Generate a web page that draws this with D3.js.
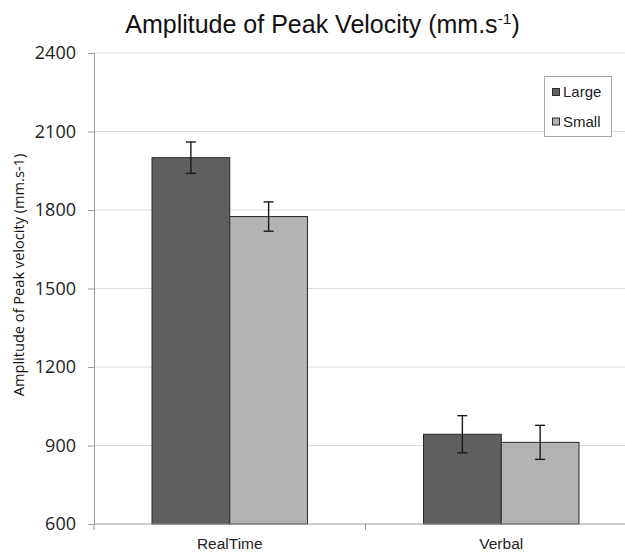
<!DOCTYPE html>
<html><head><meta charset="utf-8">
<script src="https://cdn.jsdelivr.net/npm/d3@7"></script>
<style>body{margin:0;background:#fff}svg{display:block}</style>
</head><body>
<svg id="chart" width="625" height="553"></svg>
<script>
const categories = ["RealTime", "Verbal"];
const seriesNames = ["Large", "Small"];
const largeValues = [2000, 943];
const largeErrors = [60, 71];
const smallValues = [1775, 912];
const smallErrors = [56, 65];
const yTicks = [600, 900, 1200, 1500, 1800, 2100, 2400];
const colors = ["#5f5f5f", "#b3b3b3"];

const svg = d3.select("#chart");
const pLeft = 94, pRight = 637, pTop = 53, pBottom = 524;

const y = d3.scaleLinear().domain([600, 2400]).range([pBottom, pTop]);
const x = d3.scaleBand().domain(categories).range([pLeft, pRight]).padding(0);
const x1 = d3.scaleBand().domain(seriesNames).range([0, x.bandwidth()]).paddingInner(0).paddingOuter(0.746);

const data = seriesNames.map((s, i) => ({
  name: s, color: colors[i],
  values: categories.map((c, j) => ({cat: c, v: i === 0 ? largeValues[j] : smallValues[j], e: i === 0 ? largeErrors[j] : smallErrors[j]}))
}));

// gridlines
svg.append("g").selectAll("line").data(yTicks.filter(t => t > 600)).join("line")
  .attr("x1", pLeft).attr("x2", pRight).attr("y1", d => y(d)).attr("y2", d => y(d))
  .attr("stroke", "#dcdcdc").attr("stroke-width", 1);

// y axis
const yAxis = svg.append("g").attr("transform", `translate(${pLeft},0)`)
  .call(d3.axisLeft(y).tickValues(yTicks).tickSize(6).tickPadding(12).tickFormat(d3.format("d")));
yAxis.select(".domain").attr("stroke", "#9a9a9a");
yAxis.selectAll(".tick line").attr("stroke", "#9a9a9a");
yAxis.selectAll("text").attr("font-family", "Open Sans").attr("font-size", 18).attr("fill", "#222");

// bars
const groups = svg.append("g").selectAll("g").data(data).join("g").attr("fill", d => d.color);
groups.selectAll("rect").data(d => d.values.map(v => ({...v, s: d.name}))).join("rect")
  .attr("x", d => x(d.cat) + x1(d.s)).attr("width", x1.bandwidth())
  .attr("y", d => y(d.v)).attr("height", d => pBottom - y(d.v))
  .attr("stroke", "#2a2a2a").attr("stroke-width", 1);

// x axis
const xAxis = svg.append("g").attr("transform", `translate(0,${pBottom})`);
xAxis.append("line").attr("x1", pLeft).attr("x2", pRight).attr("stroke", "#9a9a9a");
xAxis.selectAll("line.tk").data([pLeft, x(categories[1]), pRight]).join("line").attr("class", "tk")
  .attr("x1", d => d).attr("x2", d => d).attr("y1", 0).attr("y2", 6).attr("stroke", "#9a9a9a");
xAxis.selectAll("text").data(categories).join("text")
  .attr("x", d => x(d) + x.bandwidth() / 2).attr("y", 25)
  .attr("text-anchor", "middle").attr("font-family", "Liberation Sans, Arial").attr("font-size", 15.5).attr("fill", "#222")
  .text(d => d);

// error bars
const eb = svg.append("g").attr("stroke", "#1a1a1a").attr("stroke-width", 1.4);
data.forEach(s => s.values.forEach(d => {
  const cx = x(d.cat) + x1(s.name) + x1.bandwidth() / 2;
  eb.append("line").attr("x1", cx).attr("x2", cx).attr("y1", y(d.v + d.e)).attr("y2", y(d.v - d.e));
  eb.append("line").attr("x1", cx - 5).attr("x2", cx + 5).attr("y1", y(d.v + d.e)).attr("y2", y(d.v + d.e));
  eb.append("line").attr("x1", cx - 5).attr("x2", cx + 5).attr("y1", y(d.v - d.e)).attr("y2", y(d.v - d.e));
}));

// title
const title = svg.append("text").attr("x", 322.5).attr("y", 33).attr("text-anchor", "middle")
  .attr("font-family", "Liberation Sans, Arial").attr("font-size", 25).attr("fill", "#111");
title.append("tspan").text("Amplitude of Peak Velocity (mm.s");
title.append("tspan").attr("font-size", 15.5).attr("dy", -9.5).text("-1");
title.append("tspan").attr("dy", 9.5).text(")");

// y title
svg.append("text").attr("transform", "translate(24,275) rotate(-90)").attr("text-anchor", "middle")
  .attr("font-family", "Open Sans").attr("font-size", 14.6).attr("fill", "#111")
  .text("Amplitude of Peak velocity (mm.s-1)");

// legend
const lg = svg.append("g");
lg.append("rect").attr("x", 544.5).attr("y", 76.5).attr("width", 67).attr("height", 60)
  .attr("fill", "#fff").attr("stroke", "#a6a6a6");
seriesNames.forEach((s, i) => {
  const yy = 97 + i * 29.5;
  lg.append("rect").attr("x", 552.5).attr("y", yy - 8.5).attr("width", 7).attr("height", 7)
    .attr("fill", colors[i]).attr("stroke", "#2a2a2a");
  lg.append("text").attr("x", 563).attr("y", yy).attr("font-family", "Liberation Sans, Arial")
    .attr("font-size", 15).attr("fill", "#222").text(s);
});
</script>
</body></html>
